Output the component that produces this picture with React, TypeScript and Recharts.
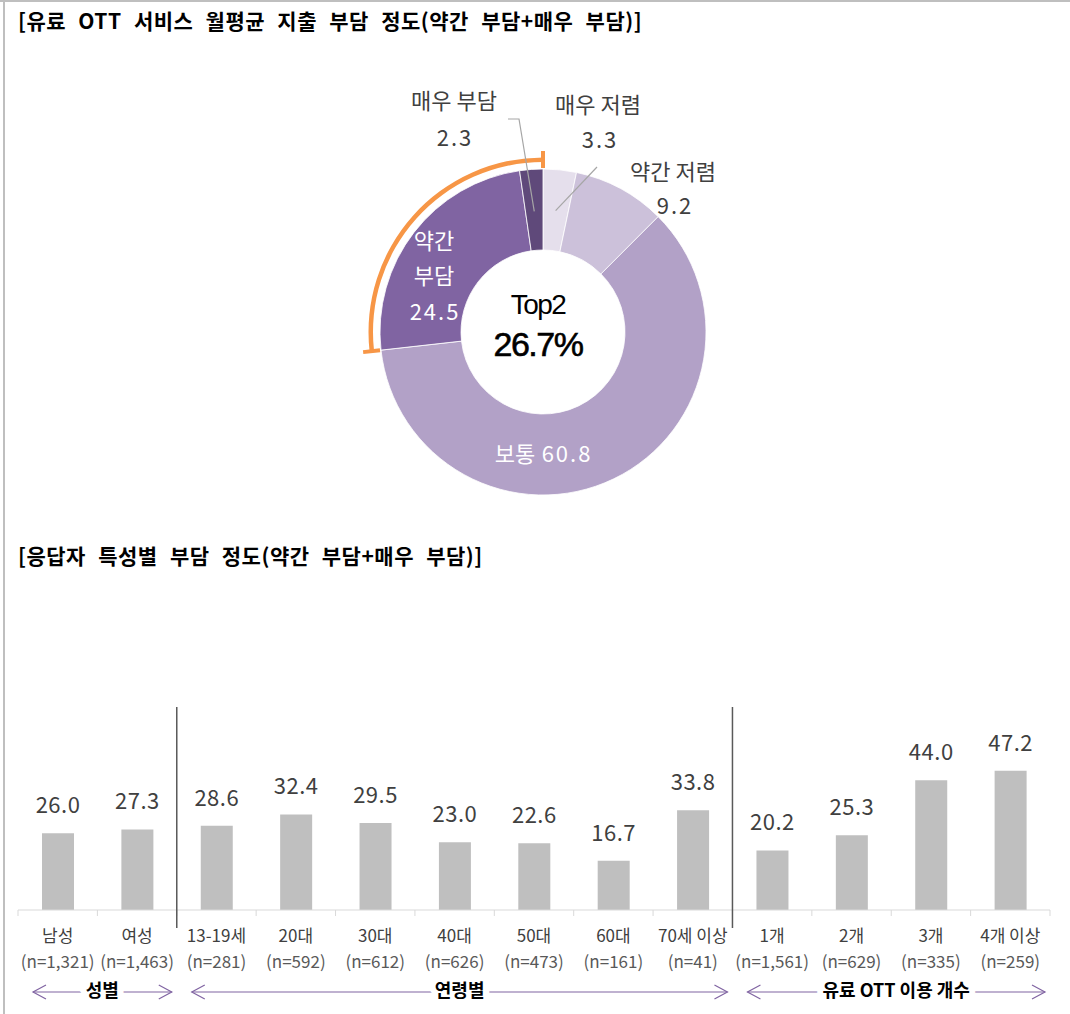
import { PieChart, Pie, Cell, BarChart, Bar, XAxis, YAxis, LabelList } from 'recharts';

const FONT = '"Noto Sans CJK KR", "Noto Sans", sans-serif';
const LATIN = '"Liberation Sans", Arial, sans-serif';

// donut: monthly spend burden
const burdenLevels = ['매우 저렴', '약간 저렴', '보통', '약간 부담', '매우 부담'];
const burdenShares = [3.3, 9.2, 60.8, 24.5, 2.3];
const burdenColors = ['#E5DFEC', '#CCC1DA', '#B2A1C7', '#8064A2', '#5F497A'];
const top2Text = 'Top2';
const top2Share = '26.7%';

// bars: burden by respondent group
const groupNames = ['성별', '연령별', '유료 OTT 이용 개수'];
const groupSizes = [2, 7, 4];
const categories = ['남성', '여성', '13-19세', '20대', '30대', '40대', '50대', '60대', '70세 이상', '1개', '2개', '3개', '4개 이상'];
const sampleSizes = ['(n=1,321)', '(n=1,463)', '(n=281)', '(n=592)', '(n=612)', '(n=626)', '(n=473)', '(n=161)', '(n=41)', '(n=1,561)', '(n=629)', '(n=335)', '(n=259)'];
const burdenRates = [26.0, 27.3, 28.6, 32.4, 29.5, 23.0, 22.6, 16.7, 33.8, 20.2, 25.3, 44.0, 47.2];

const donutData = burdenLevels.map((name, i) => ({ name, value: burdenShares[i] }));
const restSum = burdenShares.slice(0, 3).reduce((a, b) => a + b, 0);
const top2Sum = burdenShares[3] + burdenShares[4];
const bracketData = [{ name: 'rest', value: restSum }, { name: 'top2', value: top2Sum }];

const barData = categories.map((name, i) => ({ name, n: sampleSizes[i], value: burdenRates[i] }));
const groupStarts = groupSizes.map((_, i) => groupSizes.slice(0, i).reduce((a, b) => a + b, 0));

const CX = 538;
const CY = 327;
const RAD = Math.PI / 180;
const polar = (cx: number, cy: number, r: number, deg: number) => [cx + r * Math.cos(deg * RAD), cy - r * Math.sin(deg * RAD)];

const W = 1070;
const BAR_MARGIN = { top: 133, right: 20, bottom: 4, left: 18 };
const STEP = (W - BAR_MARGIN.left - BAR_MARGIN.right) / categories.length;

const DARK = '#404040';
const ORANGE = '#F79646';
const PURPLE = '#8064A2';

// CJK font sits low with "central", nudge it up a bit
const txt = (x: number, y: number, s: string, fill: string, size = 22, spacing = 0) => (
  <text x={x} y={y - 4} fill={fill} fontSize={size} letterSpacing={spacing} fontFamily={FONT}
    textAnchor="middle" dominantBaseline="central">{s}</text>
);
const num = (x: number, y: number, s: string, fill: string) => txt(x, y, s, fill, 22, 2);

const renderDonutLabel = (p: any) => {
  const { cx, cy, midAngle, index, value } = p;
  const name = burdenLevels[index];
  const v = Number(value).toFixed(1);
  if (index === 0) {
    const [ax, ay] = polar(cx, cy, 122, midAngle);
    return (
      <g>
        <line x1={ax} y1={ay} x2={cx + 54} y2={cy - 165} stroke="#A6A6A6" strokeWidth={1.2} />
        {txt(cx + 55, cy - 225, name, DARK)}
        {num(cx + 57, cy - 190, v, DARK)}
      </g>
    );
  }
  if (index === 1) {
    return (
      <g>
        {txt(cx + 130, cy - 158, name, DARK)}
        {num(cx + 132, cy - 124, v, DARK)}
      </g>
    );
  }
  if (index === 2) {
    return (
      <g>
        {txt(cx - 28, cy + 124, name, '#fff')}
        {num(cx + 24, cy + 124, v, '#fff')}
      </g>
    );
  }
  if (index === 3) {
    const [a, b] = name.split(' ');
    return (
      <g>
        {txt(cx - 109, cy - 89, a, '#fff')}
        {txt(cx - 109, cy - 54, b, '#fff')}
        {num(cx - 108, cy - 18, v, '#fff')}
      </g>
    );
  }
  const [ax, ay] = polar(cx, cy, 121, midAngle);
  return (
    <g>
      <polyline points={`${ax},${ay} ${cx - 24},${cy - 213} ${cx - 35},${cy - 213}`} fill="none" stroke="#A6A6A6" strokeWidth={1.2} />
      {txt(cx - 89, cy - 229, name, DARK)}
      {num(cx - 88, cy - 192, v, DARK)}
    </g>
  );
};

// end caps of the orange Top2 bracket
const renderBracketCaps = (p: any) => {
  if (p.index !== 1) return null;
  const { cx, cy, startAngle, endAngle } = p;
  return (
    <g>
      {[startAngle, endAngle].map((a: number, i: number) => {
        const [x1, y1] = polar(cx, cy, 164, a);
        const [x2, y2] = polar(cx, cy, 181, a);
        return <line key={i} x1={x1} y1={y1} x2={x2} y2={y2} stroke={ORANGE} strokeWidth={4} />;
      })}
    </g>
  );
};

const BarValueLabel = (p: any) => {
  const { x, y, width, value } = p;
  return (
    <text x={x + width / 2} y={y - 20} fill={DARK} fontSize={22} letterSpacing={0.5} fontFamily={FONT} textAnchor="middle">
      {Number(value).toFixed(1)}
    </text>
  );
};

const CategoryTick = (p: any) => {
  const { x, y, index, payload } = p;
  const i = index ?? payload.index;
  const left = x - STEP / 2;
  const g = groupStarts.indexOf(i);
  let group = null;
  if (g >= 0) {
    const gl = left + 15;
    const gr = left + groupSizes[g] * STEP - 5;
    const gy = y + 82;
    group = (
      <g>
        {g > 0 && <line x1={left} y1={y - 203} x2={left} y2={y + 18} stroke="#595959" strokeWidth={1.5} />}
        <line x1={gl} y1={gy} x2={gr} y2={gy} stroke={PURPLE} strokeWidth={1.2} />
        <polyline points={`${gl + 13},${gy - 7} ${gl},${gy} ${gl + 13},${gy + 7}`} fill="none" stroke={PURPLE} strokeWidth={1.2} />
        <polyline points={`${gr - 13},${gy - 7} ${gr},${gy} ${gr - 13},${gy + 7}`} fill="none" stroke={PURPLE} strokeWidth={1.2} />
        <text x={(gl + gr) / 2} y={gy - 3} fill="#000" fontSize={18} fontWeight={700} fontFamily={FONT} textAnchor="middle"
          dominantBaseline="central" stroke="#fff" strokeWidth={12} paintOrder="stroke">{groupNames[g]}</text>
      </g>
    );
  }
  return (
    <g>
      <line x1={left} y1={y} x2={left} y2={y + 6} stroke="#D9D9D9" />
      {i === categories.length - 1 && <line x1={left + STEP} y1={y} x2={left + STEP} y2={y + 6} stroke="#D9D9D9" />}
      <text x={x} y={y + 24} fill={DARK} fontSize={17} fontFamily={FONT} textAnchor="middle" dominantBaseline="central">{payload.value}</text>
      <text x={x} y={y + 50} fill="#595959" fontSize={17} fontFamily={FONT} textAnchor="middle" dominantBaseline="central">{sampleSizes[i]}</text>
      {group}
    </g>
  );
};

const titleStyle: any = {
  position: 'absolute', left: 18, fontFamily: FONT, fontWeight: 700, fontSize: 21,
  color: '#000', whiteSpace: 'nowrap', letterSpacing: 0.5, wordSpacing: 7, lineHeight: '26px',
};

export default function App() {
  return (
    <div style={{ position: 'absolute', left: 0, top: 0, width: W, height: 1014, background: '#fff', overflow: 'hidden' }}>
      <div style={{ position: 'absolute', left: 0, top: 0, width: W, height: 2, background: '#BFBFBF' }} />
      <div style={{ position: 'absolute', left: 3, top: 0, width: 2, height: 1014, background: '#BFBFBF' }} />

      <div style={{ ...titleStyle, top: 7 }}>[유료 OTT 서비스 월평균 지출 부담 정도(약간 부담+매우 부담)]</div>
      <div style={{ ...titleStyle, top: 542 }}>[응답자 특성별 부담 정도(약간 부담+매우 부담)]</div>

      <div style={{ position: 'absolute', left: 0, top: 0 }}>
        <PieChart width={W} height={520}>
          <Pie data={bracketData} dataKey="value" cx={CX} cy={CY} innerRadius={170} outerRadius={174.5}
            startAngle={90} endAngle={-270} stroke="none" label={renderBracketCaps} labelLine={false} isAnimationActive={false}>
            <Cell fill="none" />
            <Cell fill={ORANGE} />
          </Pie>
          <Pie data={donutData} dataKey="value" cx={CX} cy={CY} innerRadius={82} outerRadius={163}
            startAngle={90} endAngle={-270} stroke="#fff" strokeWidth={0.8} label={renderDonutLabel} labelLine={false} isAnimationActive={false}>
            {donutData.map((d, i) => <Cell key={d.name} fill={burdenColors[i]} />)}
          </Pie>
        </PieChart>
      </div>

      <div style={{ position: 'absolute', left: CX - 100, top: 291, width: 200, textAlign: 'center', fontFamily: LATIN, color: '#000', fontSize: 28, letterSpacing: -1.5, lineHeight: '28px' }}>
        {top2Text}
      </div>
      <div style={{ position: 'absolute', left: CX - 100, top: 327, width: 200, textAlign: 'center', fontFamily: LATIN, color: '#000', fontSize: 34, letterSpacing: -1.5, lineHeight: '34px', WebkitTextStroke: '0.6px #000' }}>
        {top2Share}
      </div>

      <div style={{ position: 'absolute', left: 0, top: 600 }}>
        <BarChart width={W} height={414} data={barData} margin={BAR_MARGIN}>
          <XAxis dataKey="name" height={100} interval={0} tickSize={0} tickMargin={0} tickLine={false}
            axisLine={{ stroke: '#D9D9D9' }} tick={<CategoryTick />} />
          <YAxis hide domain={[0, 60]} />
          <Bar dataKey="value" fill="#BFBFBF" barSize={32} isAnimationActive={false}>
            <LabelList dataKey="value" content={<BarValueLabel />} />
          </Bar>
        </BarChart>
      </div>
    </div>
  );
}
